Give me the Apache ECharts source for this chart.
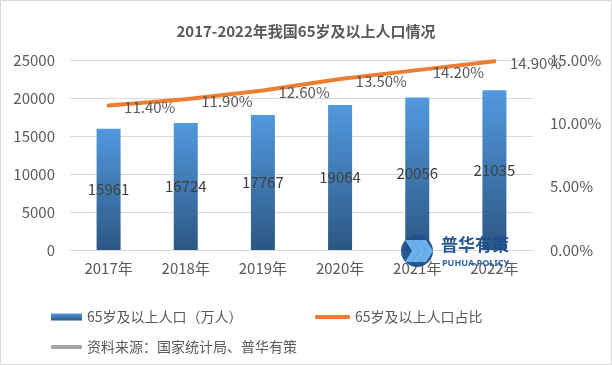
<!DOCTYPE html>
<html>
<head>
<meta charset="utf-8">
<script src="https://cdn.jsdelivr.net/npm/echarts@6/dist/echarts.min.js"></script>
<style>
html,body{margin:0;padding:0;background:#fff;}
#main{width:612px;height:365px;}
</style>
</head>
<body>
<div id="main"></div>
<script>
var categories = ['2017年','2018年','2019年','2020年','2021年','2022年'];
var population = [15961, 16724, 17767, 19064, 20056, 21035];
var ratio = [11.4, 11.9, 12.6, 13.5, 14.2, 14.9];
var leftTicks = [0, 5000, 10000, 15000, 20000, 25000];
var rightTicks = [0, 5, 10, 15];
var titleText = '2017-2022年我国65岁及以上人口情况';
var barName = '65岁及以上人口（万人）';
var lineName = '65岁及以上人口占比';
var sourceName = '资料来源：国家统计局、普华有策';

var FONT = '"Noto Sans CJK SC", "Noto Sans", sans-serif';
var TXT = '#595959';
var chart = echarts.init(document.getElementById('main'), null, {renderer:'canvas'});

var barGradient = new echarts.graphic.LinearGradient(0,0,0,1,[
  {offset:0,color:'#5299DF'},{offset:1,color:'#2C5783'}]);

function chevron(x){
  return {type:'polygon', z:20, shape:{points:[[x,240],[x+7,240],[x+14,251],[x+7,262],[x,262],[x+7,251]]},
    style:{fill:'#6FB6F0', opacity:0.95}};
}

var option = {
  backgroundColor:'#fff',
  textStyle:{fontFamily:FONT},
  title:{text:titleText, left:'center', top:19,
    textStyle:{fontSize:15, fontWeight:'bold', color:TXT, fontFamily:FONT}},
  grid:{left:70, right:79, top:60, bottom:115, containLabel:false},
  legend:[
    {data:[barName], left:46, top:305, icon:'rect', itemWidth:31, itemHeight:7,
      textStyle:{color:TXT, fontSize:14, fontFamily:FONT}},
    {data:[lineName], left:310, top:305, icon:'roundRect', itemWidth:35, itemHeight:4,
      itemStyle:{color:'#ED7D31', opacity:1},
      textStyle:{color:TXT, fontSize:14, fontFamily:FONT}},
    {data:[sourceName], left:46, top:335, icon:'roundRect', itemWidth:31, itemHeight:4,
      textStyle:{color:TXT, fontSize:14, fontFamily:FONT}}
  ],
  xAxis:{type:'category', data:categories,
    axisLine:{show:true, lineStyle:{color:'#D9D9D9'}},
    axisTick:{show:false},
    axisLabel:{color:TXT, fontSize:15, margin:11, fontFamily:FONT}},
  yAxis:[
    {type:'value', min:leftTicks[0], max:leftTicks[leftTicks.length-1], interval:leftTicks[1]-leftTicks[0],
      axisLine:{show:false}, axisTick:{show:false},
      splitLine:{lineStyle:{color:'#D9D9D9'}},
      axisLabel:{color:TXT, fontSize:15, margin:15, fontFamily:FONT,
        formatter:function(v){return String(v);}}},
    {type:'value', min:rightTicks[0], max:rightTicks[rightTicks.length-1], interval:rightTicks[1]-rightTicks[0],
      position:'right',
      axisLine:{show:false}, axisTick:{show:false}, splitLine:{show:false},
      axisLabel:{color:TXT, fontSize:15, margin:17, fontFamily:FONT,
        formatter:function(v){return v.toFixed(2)+'%';}}}
  ],
  series:[
    {name:barName, type:'bar', data:population, barWidth:24, yAxisIndex:0,
      itemStyle:{color:barGradient},
      label:{show:true, position:'inside', color:'#404040', fontSize:15, fontFamily:FONT}},
    {name:lineName, type:'line', data:ratio, yAxisIndex:1, z:5,
      symbol:'circle', symbolSize:3, showSymbol:true, itemStyle:{color:'#ED7D31'},
      lineStyle:{color:'#ED7D31', width:4, cap:'round'},
      label:{show:true, position:'right', distance:14, offset:[0,2], color:TXT, fontSize:15, fontFamily:FONT,
        formatter:function(p){return p.value.toFixed(2)+'%';}}},
    {name:sourceName, type:'line', data:[], yAxisIndex:0,
      itemStyle:{color:'#A5A5A5'}, lineStyle:{color:'#A5A5A5'}}
  ],
  graphic:[
    {type:'rect', z:30, shape:{x:0.5,y:0.5,width:611,height:364}, style:{fill:'none', stroke:'#D9D9D9', lineWidth:1}},
    {type:'circle', z:19, shape:{cx:417, cy:251, r:16}, style:{fill:'#1E4F8D', opacity:0.95}},
    chevron(405), chevron(412), chevron(419),
    {type:'text', z:20, style:{text:'普华有策', x:441, y:245, textVerticalAlign:'middle',
      font:'bold 17px "Noto Sans CJK SC", sans-serif', fill:'#1F4E8C', opacity:0.95}},
    {type:'text', z:20, style:{text:'PUHUA POLICY', x:442, y:263, textVerticalAlign:'middle',
      font:'bold 9px "Noto Sans", sans-serif', fill:'#1F5FA8', opacity:0.95}}
  ]
};
chart.setOption(option);
</script>
</body>
</html>
